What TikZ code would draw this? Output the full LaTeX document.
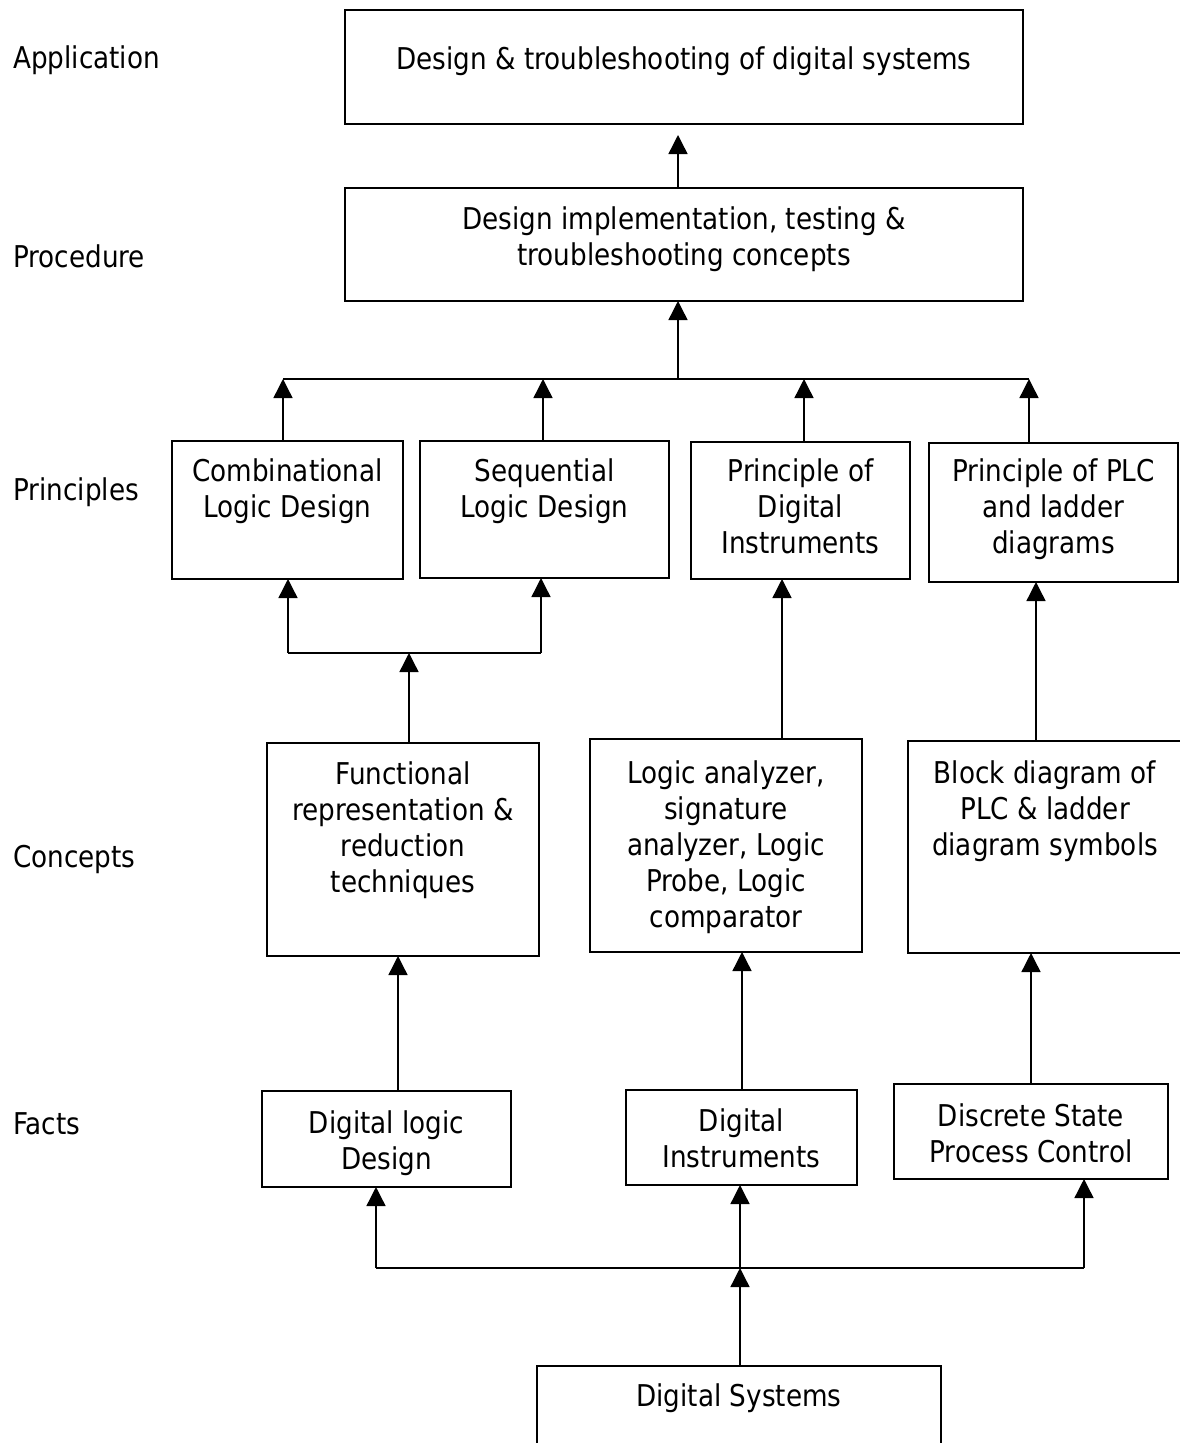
\documentclass[tikz,border=0pt]{standalone}
\usepackage{fontspec}
\setmainfont{DejaVu Sans}[FakeStretch=0.875]
\usetikzlibrary{arrows.meta,calc}
\newcommand\bxtext[4]{\parbox[t][#2][t]{#1}{\centering\vspace*{\dimexpr#3-25.2pt\relax}\strut #4}}
\tikzset{
  bx/.style={draw, line width=1.4pt, inner sep=0pt, outer sep=0pt, anchor=north west,
             font=\fontsize{30}{36}\selectfont},
  lab/.style={anchor=base west, inner sep=0pt, font=\fontsize{30}{36}\selectfont},
  arr/.style={line width=1.4pt, -{Triangle[width=19pt,length=19pt]}},
  ln/.style={line width=1.4pt}
}
\begin{document}
\begin{tikzpicture}[x=1pt,y=-1pt]
\useasboundingbox (0,0) rectangle (1180,1443);

% level labels
\node[lab] (lapp) at (13,68) {Application};
\node[lab] (lproc) at (13,267) {Procedure};
\node[lab] (lprin) at (13,500) {Principles};
\node[lab] (lconc) at (13,867) {Concepts};
\node[lab] (lfact) at (13,1134) {Facts};

% boxes
\node[bx] (app) at (345,10) {\bxtext{678pt}{114pt}{59pt}{Design \& troubleshooting of digital systems}};
\node[bx] (proc) at (345,188) {\bxtext{678pt}{113pt}{41pt}{Design implementation, testing \&\\ troubleshooting concepts}};
\node[bx] (comb) at (172,441) {\bxtext{231pt}{138pt}{40pt}{Combinational\\ Logic Design}};
\node[bx] (seq) at (420,441) {\bxtext{249pt}{137pt}{40pt}{Sequential\\ Logic Design}};
\node[bx] (pdi) at (691,442) {\bxtext{219pt}{137pt}{39pt}{Principle of\\ Digital\\ Instruments}};
\node[bx] (plc) at (929,443) {\bxtext{249pt}{139pt}{38pt}{Principle of PLC\\ and ladder\\ diagrams}};
\node[bx] (func) at (267,743) {\bxtext{272pt}{213pt}{41pt}{Functional\\ representation \&\\ reduction\\ techniques}};
\node[bx] (la) at (590,739) {\bxtext{272pt}{213pt}{44pt}{Logic analyzer,\\ signature\\ analyzer, Logic\\ Probe, Logic\\ comparator}};
\node[bx] (blk) at (908,741) {\bxtext{274pt}{212pt}{42pt}{Block diagram of\\ PLC \& ladder\\ diagram symbols}};
\node[bx] (dld) at (262,1091) {\bxtext{249pt}{96pt}{42pt}{Digital logic\\ Design}};
\node[bx] (di) at (626,1090) {\bxtext{231pt}{95pt}{41pt}{Digital\\ Instruments}};
\node[bx] (dspc) at (894,1084) {\bxtext{274pt}{95pt}{42pt}{Discrete State\\ Process Control}};
\node[bx] (ds) at (537,1366) {\bxtext{404pt}{100pt}{40pt}{Digital Systems}};

% junction coordinates
\coordinate (busT) at (678,379);
\coordinate (b1) at (283,379);
\coordinate (b2) at (543,379);
\coordinate (b3) at (804,379);
\coordinate (b4) at (1029,379);
\coordinate (c1) at (288,653);
\coordinate (c0) at (409,653);
\coordinate (c2) at (541,653);
\coordinate (xLA) at (782,0);
\coordinate (xBL) at (1036,0);
\coordinate (xDL) at (398,0);
\coordinate (xDI) at (742,0);
\coordinate (xDS) at (1031,0);
\coordinate (d1) at (376,1268);
\coordinate (d2) at (740,1268);
\coordinate (d3) at (1084,1268);

% procedure -> application
\draw[arr] (proc.north -| busT) -- ($(app.south -| busT)+(0,11)$);
% principles bus -> procedure
\draw[ln] (b1) -- (b4);
\draw[arr] (busT) -- (proc.south -| busT);
\draw[arr] (comb.north -| b1) -- (b1);
\draw[arr] (seq.north -| b2) -- (b2);
\draw[arr] (pdi.north -| b3) -- (b3);
\draw[arr] (plc.north -| b4) -- (b4);
% concepts -> principles
\draw[ln] (c1) -- (c2);
\draw[arr] (c1) -- (comb.south -| c1);
\draw[arr] (c2) -- (seq.south -| c2);
\draw[arr] (func.north -| c0) -- (c0);
\draw[arr] (la.north -| xLA) -- (pdi.south -| xLA);
\draw[arr] (blk.north -| xBL) -- (plc.south -| xBL);
% facts -> concepts
\draw[arr] (dld.north -| xDL) -- (func.south -| xDL);
\draw[arr] (di.north -| xDI) -- (la.south -| xDI);
\draw[arr] (dspc.north -| xDS) -- (blk.south -| xDS);
% digital systems -> facts
\draw[ln] (d1) -- (d3);
\draw[arr] (d1) -- (dld.south -| d1);
\draw[arr] (d2) -- (di.south -| d2);
\draw[arr] (d3) -- (dspc.south -| d3);
\draw[arr] (ds.north -| d2) -- (d2);
\end{tikzpicture}
\end{document}
